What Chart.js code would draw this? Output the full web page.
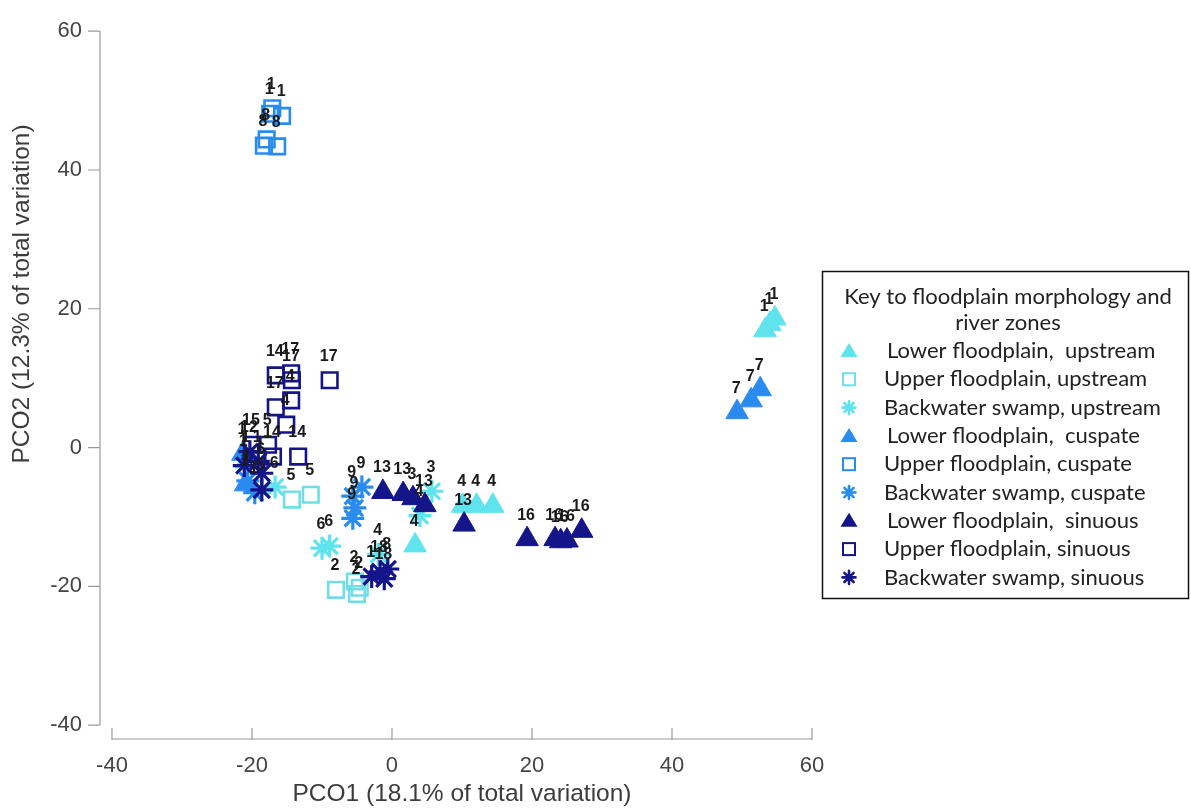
<!DOCTYPE html>
<html><head><meta charset="utf-8">
<script src="https://cdn.jsdelivr.net/npm/chart.js@4.4.1/dist/chart.umd.min.js"></script>
<style>html,body{margin:0;padding:0;background:#fff;}#wrap{width:1191px;height:809px;position:relative;}</style>
</head><body><div id="wrap"><canvas id="c"></canvas></div>
<script>
// ---- data ----
const xTicks = [-40, -20, 0, 20, 40, 60];
const yTicks = [-40, -20, 0, 20, 40, 60];
const xTitle = 'PCO1 (18.1% of total variation)';
const yTitle = 'PCO2 (12.3% of total variation)';
const legendTitle = ['Key to floodplain morphology and', 'river zones'];
const seriesNames = [
  'Lower floodplain,  upstream', 'Upper floodplain, upstream', 'Backwater swamp, upstream',
  'Lower floodplain,  cuspate', 'Upper floodplain, cuspate', 'Backwater swamp, cuspate',
  'Lower floodplain,  sinuous', 'Upper floodplain, sinuous', 'Backwater swamp, sinuous'
];

const lowerUpstreamX = [53.3, 54.0, 54.7, 10.1, 12.1, 14.4, 3.3, -20.8];
const lowerUpstreamY = [16.9, 17.8, 18.6, -8.4, -8.4, -8.4, -14.1, -2.0];
const lowerUpstreamLab = ['1', '1', '1', '4', '4', '4', '4', '1'];

const upperUpstreamX = [-14.3, -11.6, -8.0, -5.3, -4.6, -5.0];
const upperUpstreamY = [-7.5, -6.8, -20.5, -19.3, -20.2, -21.1];
const upperUpstreamLab = ['5', '5', '2', '2', '2', '2'];

const swampUpstreamX = [-10.0, -8.9, 4.0, 5.7, -16.7, -1.9];
const swampUpstreamY = [-14.5, -14.2, -9.8, -6.3, -5.7, -15.4];
const swampUpstreamLab = ['6', '6', '4', '3', '6', '4'];

const lowerCuspateX = [49.3, 51.3, 52.6, -21.3, -20.9];
const lowerCuspateY = [5.1, 6.8, 8.4, -0.9, -5.3];
const lowerCuspateLab = ['7', '7', '7', '1', '1'];

const upperCuspateX = [-17.1, -15.7, -17.4, -17.9, -16.4, -18.3];
const upperCuspateY = [48.9, 47.8, 48.1, 44.4, 43.4, 43.5];
const upperCuspateLab = ['1', '1', '1', '8', '8', '8'];

const swampCuspateX = [-4.3, -5.6, -5.3, -5.6, -20.6, -19.6];
const swampCuspateY = [-5.7, -7.0, -8.7, -10.2, -4.8, -6.5];
const swampCuspateLab = ['9', '9', '9', '9', '1', '1'];

const lowerSinuousX = [-1.3, 1.6, 3.0, 4.7, 10.3, 19.3, 23.3, 24.1, 25.0, 27.1];
const lowerSinuousY = [-6.4, -6.7, -7.3, -8.3, -11.1, -13.2, -13.2, -13.5, -13.4, -12.0];
const lowerSinuousLab = ['13', '13', '3', '13', '13', '16', '16', '16', '16', '16'];

const upperSinuousX = [-16.6, -14.3, -14.4, -8.9, -16.6, -14.4, -15.1, -13.4, -20.0, -17.7, -17.0];
const upperSinuousY = [10.4, 9.7, 10.7, 9.7, 5.8, 6.8, 3.3, -1.3, 0.4, 0.4, -1.3];
const upperSinuousLab = ['14', '17', '17', '17', '17', '4', '4', '14', '15', '5', '14'];

const swampSinuousX = [-2.9, -1.7, -0.6, -1.1, -20.3, -19.1, -18.6, -18.6, -21.1];
const swampSinuousY = [-18.6, -17.9, -17.5, -18.9, -0.6, -2.0, -3.7, -6.1, -2.6];
const swampSinuousLab = ['1', '18', '8', '18', '12', '1', '6', '5', '1'];

// ---- styles ----
const C_UP = '#5FE3EC', C_UP_SQ = '#72DDE6', C_CU = '#2A8BEF', C_SI = '#15158A';
const FONT = "'Liberation Sans', Arial, sans-serif";
const LFONT = "Lato, 'Open Sans', sans-serif";

function pts(xs, ys) { return xs.map((x, i) => ({ x: x, y: ys[i] })); }
function mk(i, xs, ys, labs, kind, color) {
  const d = { label: seriesNames[i], data: pts(xs, ys), siteLabels: labs, kind: kind, color: color, order: 9 - i };
  if (kind === 'tri') Object.assign(d, { pointStyle: 'triangle', pointRadius: 13, backgroundColor: color, borderColor: color, borderWidth: 1 });
  if (kind === 'sq') Object.assign(d, { pointStyle: 'rect', pointRadius: 11, backgroundColor: 'rgba(0,0,0,0)', borderColor: color, borderWidth: 2.6 });
  if (kind === 'star') Object.assign(d, { pointStyle: 'star', pointRadius: 11.5, backgroundColor: color, borderColor: color, borderWidth: 3.2 });
  d.pointHoverRadius = d.pointRadius;
  return d;
}
const datasets = [
  mk(0, lowerUpstreamX, lowerUpstreamY, lowerUpstreamLab, 'tri', C_UP),
  mk(1, upperUpstreamX, upperUpstreamY, upperUpstreamLab, 'sq', C_UP_SQ),
  mk(2, swampUpstreamX, swampUpstreamY, swampUpstreamLab, 'star', C_UP),
  mk(3, lowerCuspateX, lowerCuspateY, lowerCuspateLab, 'tri', C_CU),
  mk(4, upperCuspateX, upperCuspateY, upperCuspateLab, 'sq', C_CU),
  mk(5, swampCuspateX, swampCuspateY, swampCuspateLab, 'star', C_CU),
  mk(6, lowerSinuousX, lowerSinuousY, lowerSinuousLab, 'tri', C_SI),
  mk(7, upperSinuousX, upperSinuousY, upperSinuousLab, 'sq', C_SI),
  mk(8, swampSinuousX, swampSinuousY, swampSinuousLab, 'star', C_SI)
];

// axis lines + ticks (offset axes) and axis titles
const axesPlugin = {
  id: 'offsetAxes',
  afterDraw(chart) {
    const ctx = chart.ctx, xs = chart.scales.x, ys = chart.scales.y, a = chart.chartArea;
    ctx.save();
    ctx.strokeStyle = '#9a9a9a'; ctx.lineWidth = 1.2;
    const yl = a.left;
    ctx.beginPath();
    ctx.moveTo(yl, ys.getPixelForValue(60)); ctx.lineTo(yl, ys.getPixelForValue(-40));
    yTicks.forEach(v => { const p = ys.getPixelForValue(v); ctx.moveTo(yl - 12, p); ctx.lineTo(yl, p); });
    const xb = a.bottom;
    ctx.moveTo(xs.getPixelForValue(-40), xb); ctx.lineTo(xs.getPixelForValue(60), xb);
    xTicks.forEach(v => { const p = xs.getPixelForValue(v); ctx.moveTo(p, xb - 11); ctx.lineTo(p, xb + 1); });
    ctx.stroke();
    ctx.fillStyle = '#3c3c3c';
    ctx.font = '24.5px ' + FONT;
    ctx.textAlign = 'center'; ctx.textBaseline = 'middle';
    // x title centred under the x axis line
    const xc = (xs.getPixelForValue(-40) + xs.getPixelForValue(60)) / 2;
    ctx.fillText(xTitle, xc, 794);
    // y title
    ctx.translate(22, 294); ctx.rotate(-Math.PI / 2);
    ctx.fillText(yTitle, 0, 0);
    ctx.restore();
  }
};

// site number labels
const labelPlugin = {
  id: 'siteLabels',
  afterDatasetsDraw(chart) {
    const ctx = chart.ctx;
    ctx.save();
    ctx.font = 'bold 16px ' + FONT;
    ctx.fillStyle = '#1a1a1a';
    ctx.textAlign = 'center'; ctx.textBaseline = 'middle';
    chart.data.datasets.forEach((ds, di) => {
      const meta = chart.getDatasetMeta(di);
      meta.data.forEach((el, i) => { ctx.fillText(ds.siteLabels[i], el.x - 1, el.y - 24); });
    });
    ctx.restore();
  }
};

function drawMarker(ctx, kind, color, x, y) {
  ctx.save();
  ctx.fillStyle = color; ctx.strokeStyle = color;
  if (kind === 'tri') {
    ctx.beginPath(); ctx.moveTo(x, y - 8); ctx.lineTo(x + 8.5, y + 6); ctx.lineTo(x - 8.5, y + 6); ctx.closePath(); ctx.fill();
  } else if (kind === 'sq') {
    ctx.lineWidth = 2; ctx.strokeRect(x - 6, y - 6, 12, 12);
  } else {
    ctx.lineWidth = 2.6; ctx.lineCap = 'round';
    ctx.beginPath();
    for (let k = 0; k < 4; k++) {
      const ang = k * Math.PI / 4, r = 6.5;
      ctx.moveTo(x - Math.cos(ang) * r, y - Math.sin(ang) * r);
      ctx.lineTo(x + Math.cos(ang) * r, y + Math.sin(ang) * r);
    }
    ctx.stroke();
  }
  ctx.restore();
}

const legendPlugin = {
  id: 'boxLegend',
  afterDraw(chart) {
    const ctx = chart.ctx;
    ctx.save();
    ctx.strokeStyle = '#111'; ctx.lineWidth = 1.5;
    ctx.strokeRect(822.5, 271.5, 366, 327);
    ctx.font = '22px ' + LFONT;
    const w = ctx.measureText('Backwater swamp, upstream').width;
    const size = 22 * 277 / w;
    ctx.font = size.toFixed(2) + 'px ' + LFONT;
    ctx.fillStyle = '#222';
    ctx.textBaseline = 'middle';
    ctx.textAlign = 'center';
    ctx.fillText(legendTitle[0], 1008, 297);
    ctx.fillText(legendTitle[1], 1008, 323);
    ctx.textAlign = 'left';
    chart.data.datasets.forEach((ds, i) => {
      const yy = 351 + i * 28.3;
      drawMarker(ctx, ds.kind, ds.color, 849, yy);
      ctx.fillStyle = '#222';
      ctx.fillText(ds.label, ds.label.startsWith('Lower') ? 887 : 884, yy);
    });
    ctx.restore();
  }
};

new Chart(document.getElementById('c'), {
  type: 'scatter',
  data: { datasets: datasets },
  options: {
    responsive: true, maintainAspectRatio: false, animation: false,
    layout: { padding: { top: 22, right: 379, left: 0, bottom: 0 } },
    plugins: { legend: { display: false }, tooltip: { enabled: false } },
    scales: {
      x: {
        type: 'linear', min: -41.71, max: 60,
        afterBuildTicks: s => { s.ticks = xTicks.map(v => ({ value: v })); },
        afterFit: s => { s.height = 70; },
        grid: { display: false, drawTicks: false }, border: { display: false },
        ticks: { color: '#444', font: { family: FONT, size: 22 }, padding: 14, maxRotation: 0, autoSkip: false },
        title: { display: false, text: xTitle }
      },
      y: {
        type: 'linear', min: -42, max: 60,
        afterBuildTicks: s => { s.ticks = yTicks.map(v => ({ value: v })); },
        afterFit: s => { s.width = 100; },
        grid: { display: false, drawTicks: false }, border: { display: false },
        ticks: { color: '#444', font: { family: FONT, size: 22 }, padding: 18, autoSkip: false }
      }
    }
  },
  plugins: [axesPlugin, labelPlugin, legendPlugin]
});
</script></body></html>
